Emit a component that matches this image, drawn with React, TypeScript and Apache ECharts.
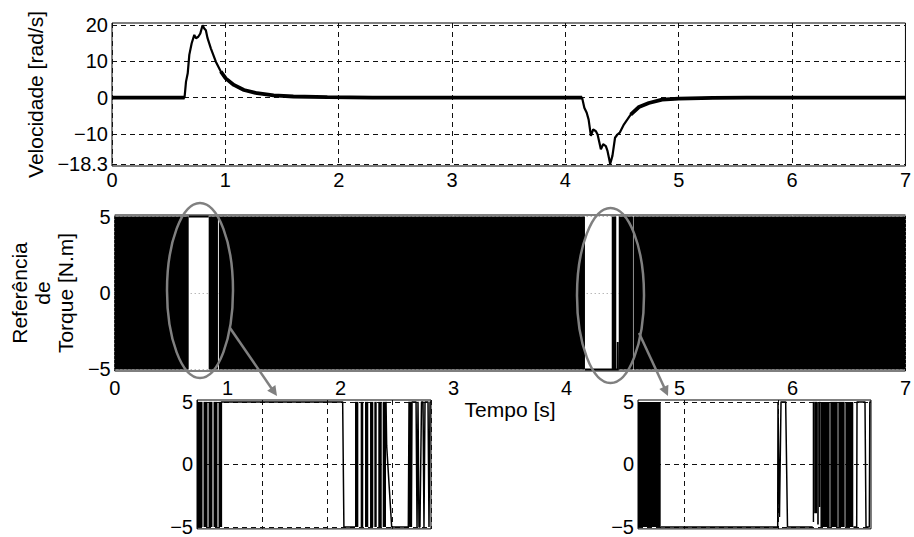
import React, { useEffect, useRef } from "react";
import * as echarts from "echarts";

// ---------- data ----------
const timeRange = [0, 7];
const velocityRange = [-18.9, 20.6];
const velocityTicks = [-18.3, -10, 0, 10, 20];
const torqueRange = [-5.1, 5.1];
const torqueTicks = [-5, 0, 5];

const velocityTime = [
  0, 0.64, 0.653, 0.668, 0.682, 0.703, 0.726, 0.741, 0.761, 0.779, 0.799, 0.814, 0.828, 0.843,
  0.872, 0.916, 0.96, 1.003, 1.075, 1.164, 1.28, 1.426, 1.6, 1.9, 2.3, 4.147, 4.167, 4.188,
  4.205, 4.225, 4.245, 4.269, 4.284, 4.313, 4.333, 4.357, 4.372, 4.395, 4.415, 4.438, 4.459,
  4.479, 4.517, 4.576, 4.649, 4.736, 4.853, 5.0, 5.3, 5.6, 7,
];
const velocitySpeed = [
  0, 0, 4.4, 6.7, 11.8, 15, 17.3, 16.4, 16.8, 17.7, 20, 19.1, 18.6, 16.4,
  13.6, 9.9, 7.2, 5.3, 3.5, 2.1, 1.2, 0.6, 0.3, 0.1, 0, 0, -2.8, -4.2,
  -6.1, -10.6, -8.8, -9.3, -10.2, -14.3, -12.9, -13.4, -14.8, -18.3, -16.1, -11.1, -10.2,
  -9.7, -7.4, -4.7, -2.6, -1.5, -0.55, -0.3, -0.1, 0, 0,
];
// time windows where the measured speed carries ripple (drawn thicker)
const rippleWindows = [
  [0, 0.64],
  [0.96, 4.147],
  [4.576, 7],
];

// chattering torque reference: [start, end, low, high]
const torqueBands = [
  [0, 0.655, -5, 5],
  [0.832, 0.914, -5, 5],
  [0.922, 4.163, -5, 5],
  [4.4, 4.44, -5, 5],
  [4.462, 4.588, -5, 5],
  [4.593, 7, -5, 5],
];
const torqueHoldATime = [0.655, 0.832];
const torqueHoldAValue = [5, 5];
const torqueHoldBTime = [4.163, 4.44, 4.452, 4.453, 4.455, 4.462];
const torqueHoldBValue = [-5, -5, -5, -3.2, -5, -5];

// zoom 1
const inset1Range = [0.6, 0.96];
const inset1Bands = [
  [0.6, 0.6085, -5, 5],
  [0.61, 0.6162, -5, 5],
  [0.6177, 0.6238, -5, 5],
  [0.6254, 0.6315, -5, 5],
  [0.6331, 0.6375, -5, 5],
  [0.8431, 0.8482, -5, 5],
  [0.8518, 0.8558, -5, 5],
  [0.8585, 0.8635, -5, 5],
  [0.8662, 0.8712, -5, 5],
  [0.8728, 0.8765, -5, 5],
  [0.8789, 0.8842, -5, 5],
  [0.8857, 0.8908, -5, 5],
];
const inset1HoldATime = [0.6375, 0.6375, 0.8241, 0.826, 0.8431];
const inset1HoldAValue = [-5, 5, 5, -5, -5];
const inset1HoldBTime = [
  0.8908, 0.8918, 0.8995, 0.9251, 0.9262, 0.9275, 0.9285, 0.9298, 0.9308, 0.937, 0.9385,
  0.94, 0.9415, 0.943, 0.9454, 0.9477, 0.9492, 0.9508, 0.9554, 0.9569, 0.9585, 0.96,
];
const inset1HoldBValue = [
  5, 1.5, -5, -5, 5, -5, 5, -5, 5, 5, -5, 5, -5, -5, 5, 5, -5, 5, 5, -5, 5, 5,
];

// zoom 2
const inset2Range = [4.1, 4.6];
const inset2Ticks = [4.2, 4.4];
const inset2Bands = [
  [4.1, 4.1487, -5, 5],
  [4.4749, 4.478, -4.6, 5],
  [4.478, 4.4845, -3.9, 5],
  [4.4845, 4.488, -4.8, 5],
  [4.488, 4.4915, -3.4, 5],
  [4.4915, 4.5113, -5, 5],
  [4.5127, 4.5285, -5, 5],
  [4.5299, 4.5435, -5, 5],
  [4.545, 4.562, -5, 5],
];
const inset2HoldATime = [4.1487, 4.3998, 4.4004, 4.4036, 4.4069, 4.4169, 4.4208, 4.4749];
const inset2HoldAValue = [-5, -5, 5, -4.2, 5, 5, -5, -5];
const inset2HoldBTime = [4.562, 4.5693, 4.57, 4.5871, 4.5893, 4.5964, 4.5975, 4.6];
const inset2HoldBValue = [-5, -5, 5, 5, -5, -5, 5, 5];

// ---------- helpers ----------
const FONT = "Liberation Sans";
const zip = (t: number[], v: number[]) => t.map((x, i) => [x, v[i]]);
const minus = (v: number) => String(v).replace("-", "\u2212");

const bandSeries = (data: number[][], idx: number) => ({
  type: "custom",
  xAxisIndex: idx,
  yAxisIndex: idx,
  clip: true,
  encode: { x: [0, 1], y: [2, 3] },
  data,
  renderItem: (_p: any, api: any) => {
    const p0 = api.coord([api.value(0), api.value(3)]);
    const p1 = api.coord([api.value(1), api.value(2)]);
    return {
      type: "rect",
      shape: { x: p0[0], y: p0[1], width: Math.max(p1[0] - p0[0], 0.6), height: p1[1] - p0[1] },
      style: { fill: "#000" },
    };
  },
});

const lineSeries = (data: (number | string)[][], idx: number, width: number) => ({
  type: "line",
  xAxisIndex: idx,
  yAxisIndex: idx,
  data,
  showSymbol: false,
  symbol: "none",
  clip: true,
  connectNulls: false,
  lineStyle: { color: "#000", width },
});

const velocityAll = zip(velocityTime, velocitySpeed);
const velocityRipple: (number | string)[][] = [];
rippleWindows.forEach(([a, b]) => {
  velocityAll.forEach((p) => {
    if (p[0] >= a && p[0] <= b) velocityRipple.push(p);
  });
  velocityRipple.push(["-", "-"]);
});

const dashed = { show: true, lineStyle: { color: "#111", type: [5, 4], width: 1 } };
const dotted = { show: true, lineStyle: { color: "#999", type: [1, 3], width: 1 } };
const labelStyle = { color: "#000", fontSize: 20, fontFamily: FONT };

export default function App() {
  const ref = useRef<HTMLDivElement>(null);
  useEffect(() => {
    document.body.style.margin = "0";
    if (!ref.current) return;
    const chart = echarts.init(ref.current, undefined, { renderer: "svg" });
    const gridBox = { show: true, borderColor: "#000", borderWidth: 1, backgroundColor: "#fff" };
    const arrowHead = (pts: number[][]) => ({
      type: "polygon",
      z: 100,
      shape: { points: pts },
      style: { fill: "#808080" },
    });
    chart.setOption({
      animation: false,
      textStyle: { fontFamily: FONT },
      grid: [
        { left: 112, top: 23, width: 800, height: 143, ...gridBox },
        { left: 112, top: 215, width: 800, height: 156, ...gridBox },
        { left: 197, top: 400, width: 234, height: 131, ...gridBox },
        { left: 638, top: 400, width: 233, height: 130, ...gridBox },
      ],
      xAxis: [
        {
          gridIndex: 0, type: "value", min: timeRange[0], max: timeRange[1], interval: 1,
          axisLine: { show: false }, axisTick: { show: false },
          axisLabel: { ...labelStyle, margin: 4, showMaxLabel: true },
          splitLine: dashed,
        },
        {
          gridIndex: 1, type: "value", min: timeRange[0], max: timeRange[1], interval: 1,
          axisLine: { show: false }, axisTick: { show: false },
          axisLabel: { ...labelStyle, margin: 7, showMaxLabel: true },
          splitLine: dotted,
          name: "Tempo [s]", nameLocation: "middle", nameGap: 28,
          nameTextStyle: { ...labelStyle, fontSize: 21 },
        },
        {
          gridIndex: 2, type: "value", min: inset1Range[0], max: inset1Range[1], interval: 0.1,
          axisLine: { show: false }, axisTick: { show: false }, axisLabel: { show: false },
          splitLine: dashed,
        },
        {
          gridIndex: 3, type: "value", min: inset2Range[0], max: inset2Range[1],
          axisLine: { show: false }, axisTick: { show: false, customValues: inset2Ticks },
          axisLabel: { show: false, customValues: inset2Ticks },
          splitLine: dashed,
        },
      ],
      yAxis: [
        {
          gridIndex: 0, type: "value", min: velocityRange[0], max: velocityRange[1],
          axisLine: { show: false }, axisTick: { show: false, customValues: velocityTicks },
          axisLabel: { ...labelStyle, margin: 4, customValues: velocityTicks, formatter: minus },
          splitLine: dashed,
          name: "Velocidade [rad/s]", nameLocation: "middle", nameRotate: 90, nameGap: 61,
          nameTextStyle: { ...labelStyle, fontSize: 21 },
        },
        {
          gridIndex: 1, type: "value", min: torqueRange[0], max: torqueRange[1],
          axisLine: { show: false }, axisTick: { show: false, customValues: torqueTicks },
          axisLabel: { ...labelStyle, margin: 4, customValues: torqueTicks, formatter: minus },
          splitLine: dotted,
          name: "Referência\nde\nTorque [N.m]", nameLocation: "middle", nameRotate: 90, nameGap: 30,
          nameTextStyle: { ...labelStyle, fontSize: 21, lineHeight: 23 },
        },
        {
          gridIndex: 2, type: "value", min: -5.15, max: 5.15,
          axisLine: { show: false }, axisTick: { show: false, customValues: torqueTicks },
          axisLabel: { ...labelStyle, margin: 4, customValues: torqueTicks, formatter: minus },
          splitLine: dashed,
        },
        {
          gridIndex: 3, type: "value", min: -5.15, max: 5.15,
          axisLine: { show: false }, axisTick: { show: false, customValues: torqueTicks },
          axisLabel: { ...labelStyle, margin: 4, customValues: torqueTicks, formatter: minus },
          splitLine: dashed,
        },
      ],
      series: [
        lineSeries(velocityAll, 0, 2.2),
        lineSeries(velocityRipple, 0, 3.8),
        bandSeries(torqueBands, 1),
        lineSeries(zip(torqueHoldATime, torqueHoldAValue), 1, 2),
        lineSeries(zip(torqueHoldBTime, torqueHoldBValue), 1, 2),
        bandSeries(inset1Bands, 2),
        lineSeries(zip(inset1HoldATime, inset1HoldAValue), 2, 1.5),
        lineSeries(zip(inset1HoldBTime, inset1HoldBValue), 2, 1.5),
        bandSeries(inset2Bands, 3),
        lineSeries(zip(inset2HoldATime, inset2HoldAValue), 3, 1.5),
        lineSeries(zip(inset2HoldBTime, inset2HoldBValue), 3, 1.5),
      ],
      graphic: [
        {
          type: "ellipse", z: 100,
          shape: { cx: 200, cy: 290.5, rx: 33, ry: 87.5 },
          style: { fill: "none", stroke: "#808080", lineWidth: 2.5 },
        },
        {
          type: "ellipse", z: 100,
          shape: { cx: 610.5, cy: 295.5, rx: 33.5, ry: 87.5 },
          style: { fill: "none", stroke: "#808080", lineWidth: 2.5 },
        },
        {
          type: "line", z: 100,
          shape: { x1: 230, y1: 328, x2: 272, y2: 389 },
          style: { stroke: "#808080", lineWidth: 2.5 },
        },
        arrowHead([[277, 396], [267.2, 390.7], [275.4, 384.9]]),
        {
          type: "line", z: 100,
          shape: { x1: 639, y1: 333, x2: 664.5, y2: 388 },
          style: { stroke: "#808080", lineWidth: 2.5 },
        },
        arrowHead([[668, 396], [659.3, 389], [668.4, 384.8]]),
      ],
    });
    return () => chart.dispose();
  }, []);
  return <div ref={ref} style={{ width: 914, height: 537 }} />;
}
